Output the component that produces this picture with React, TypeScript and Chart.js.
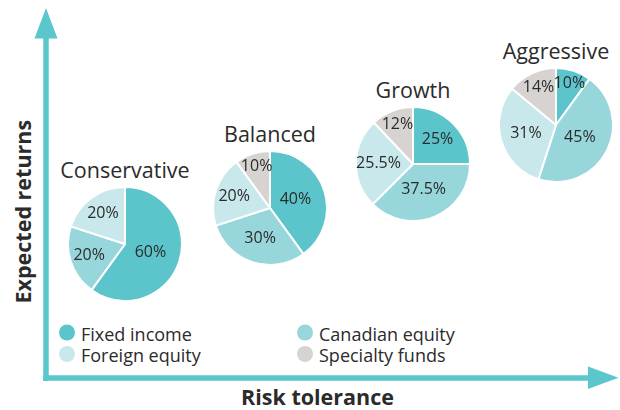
import React, { useEffect, useRef } from "react";
import { Chart, registerables } from "chart.js";

Chart.register(...registerables);

// ---- data ----
const profiles = ["Conservative", "Balanced", "Growth", "Aggressive"];
const assetClasses = ["Fixed income", "Canadian equity", "Foreign equity", "Specialty funds"];
const fixedIncome = [60, 40, 25, 10];
const canadianEquity = [20, 30, 37.5, 45];
const foreignEquity = [20, 20, 25.5, 31];
const specialtyFunds = [0, 10, 12, 14];
const xAxisTitle = "Risk tolerance";
const yAxisTitle = "Expected returns";

// ---- style / layout ----
const COLORS = ["#5bc5cb", "#97d6db", "#c9e8ec", "#d7d3d1"];
const TEAL = "#5bc6cc";
const TEXT = "#2b2b2b";
const FONT = "'Open Sans', sans-serif";
const R = 57;
const BOX = 130;
const PIE_CENTERS = [
  [125, 244],
  [270, 208],
  [413, 164],
  [556, 125],
];
const LEGEND_COLS = [67, 305];
const LEGEND_ROWS = [332.5, 354];

const labelPlugin = {
  id: "sliceLabels",
  afterDatasetsDraw(chart: any) {
    const ctx = chart.ctx;
    const ds = chart.data.datasets[0];
    const vals: number[] = ds.data;
    const total = vals.reduce((a, b) => a + b, 0);
    const meta = chart.getDatasetMeta(0);
    ctx.save();
    ctx.font = `16px ${FONT}`;
    ctx.fillStyle = TEXT;
    ctx.textAlign = "center";
    ctx.textBaseline = "middle";
    meta.data.forEach((arc: any, i: number) => {
      const v = vals[i];
      if (!v) return;
      const p = arc.getProps(["x", "y", "startAngle", "endAngle", "outerRadius"], true);
      const f = v / total;
      const k = Math.max(0.47, Math.min(0.78, 0.86 - f));
      const mid = (p.startAngle + p.endAngle) / 2;
      ctx.fillText(
        `${v}%`,
        p.x + Math.cos(mid) * p.outerRadius * k,
        p.y + Math.sin(mid) * p.outerRadius * k
      );
    });
    ctx.restore();
  },
};

function Pie({ index }: { index: number }) {
  const ref = useRef<HTMLCanvasElement>(null);
  useEffect(() => {
    const chart = new Chart(ref.current as HTMLCanvasElement, {
      type: "pie",
      data: {
        labels: assetClasses,
        datasets: [
          {
            data: [
              fixedIncome[index],
              canadianEquity[index],
              foreignEquity[index],
              specialtyFunds[index],
            ],
            backgroundColor: COLORS,
            borderColor: "#ffffff",
            borderWidth: 2,
            hoverBorderWidth: 2,
          },
        ],
      },
      options: {
        responsive: false,
        animation: false,
        radius: R,
        events: [],
        layout: { padding: 0 },
        plugins: { legend: { display: false }, tooltip: { enabled: false } },
      } as any,
      plugins: [labelPlugin],
    });
    return () => chart.destroy();
  }, [index]);
  const [cx, cy] = PIE_CENTERS[index];
  return (
    <canvas
      ref={ref}
      width={BOX}
      height={BOX}
      style={{
        position: "absolute",
        left: cx - BOX / 2,
        top: cy - BOX / 2,
        width: BOX,
        height: BOX,
      }}
    />
  );
}

export default function App() {
  return (
    <div
      style={{
        position: "absolute",
        left: 0,
        top: 0,
        width: 620,
        height: 410,
        background: "#ffffff",
        overflow: "hidden",
      }}
    >
      <svg
        width={620}
        height={410}
        style={{ position: "absolute", left: 0, top: 0 }}
        fontFamily={FONT}
      >
        <line x1={46} y1={381} x2={46} y2={36} stroke={TEAL} strokeWidth={5.5} />
        <polygon points="46,8 34.5,38.5 57.5,38.5" fill={TEAL} />
        <line x1={43.25} y1={378} x2={590} y2={378} stroke={TEAL} strokeWidth={5.5} />
        <polygon points="618.5,377.7 588,366.5 588,389" fill={TEAL} />
        <text x={317.5} y={405} textAnchor="middle" fontSize={21.5} fontWeight="bold" fill={TEXT}>
          {xAxisTitle}
        </text>
        <text
          transform="translate(30.5,211.7) rotate(-90)"
          textAnchor="middle"
          fontSize={21.5}
          fontWeight="bold"
          fill={TEXT}
        >
          {yAxisTitle}
        </text>
        {profiles.map((p, i) => (
          <text
            key={p}
            x={PIE_CENTERS[i][0]}
            y={PIE_CENTERS[i][1] - R - 9}
            textAnchor="middle"
            fontSize={21.5}
            fill={TEXT}
          >
            {p}
          </text>
        ))}
        {assetClasses.map((name, i) => {
          const cx = LEGEND_COLS[i % 2];
          const cy = LEGEND_ROWS[Math.floor(i / 2)];
          return (
            <g key={name}>
              <circle cx={cx} cy={cy} r={8} fill={COLORS[i]} />
              <text x={cx + 14} y={cy + 8.2} fontSize={18} fill={TEXT}>
                {name}
              </text>
            </g>
          );
        })}
      </svg>
      {profiles.map((p, i) => (
        <Pie key={p} index={i} />
      ))}
    </div>
  );
}
